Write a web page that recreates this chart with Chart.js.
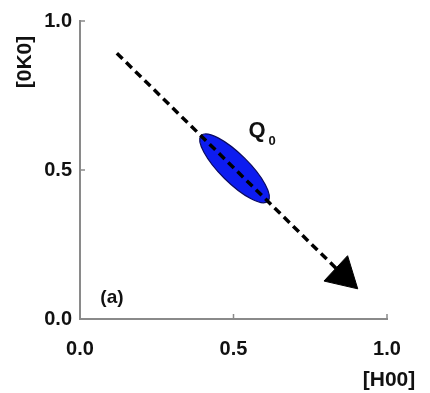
<!DOCTYPE html>
<html>
<head>
<meta charset="utf-8">
<script src="https://cdn.jsdelivr.net/npm/chart.js@4.4.1/dist/chart.umd.min.js"></script>
<style>
  html, body { margin: 0; padding: 0; background: #fff; }
  #wrap { width: 430px; height: 393px; }
</style>
</head>
<body>
<div id="wrap"><canvas id="qplot" width="430" height="393"></canvas></div>
<script>
// axis ticks, same on H and K
const tickValues = [0.0, 0.5, 1.0];
const tickLabels = ['0.0', '0.5', '1.0'];

// dashed scan direction: start point, then centre of the arrow head
const scanH = [0.120, 0.857];
const scanK = [0.892, 0.147];

// Q0 spot: ends of the long axis, and half width across it (in K units)
const spotH = [0.395, 0.612];
const spotK = [0.616, 0.395];
const spotHalfWidth = 0.048;

const FONT = '"Liberation Sans", Arial, Helvetica, sans-serif';
const AXIS_GREY = '#8a8a8a';

const decor = {
  id: 'decor',
  beforeDatasetsDraw(chart) {
    const { ctx, scales: { x, y } } = chart;
    const x0 = x.getPixelForValue(spotH[0]), y0 = y.getPixelForValue(spotK[0]);
    const x1 = x.getPixelForValue(spotH[1]), y1 = y.getPixelForValue(spotK[1]);
    const a = Math.hypot(x1 - x0, y1 - y0) / 2;
    const b = Math.abs(y.getPixelForValue(0) - y.getPixelForValue(spotHalfWidth));
    ctx.save();
    ctx.beginPath();
    ctx.ellipse((x0 + x1) / 2, (y0 + y1) / 2, a, b, Math.atan2(y1 - y0, x1 - x0), 0, Math.PI * 2);
    ctx.fillStyle = '#0d1cf0';
    ctx.fill();
    ctx.lineWidth = 1.2;
    ctx.strokeStyle = '#0a0a60';
    ctx.stroke();
    ctx.restore();
  },
  afterDraw(chart) {
    const { ctx, chartArea, scales: { x, y } } = chart;
    ctx.save();
    // inward ticks
    ctx.strokeStyle = AXIS_GREY;
    ctx.lineWidth = 1.5;
    ctx.beginPath();
    tickValues.forEach(v => {
      const px = x.getPixelForValue(v);
      ctx.moveTo(px, chartArea.bottom);
      ctx.lineTo(px, chartArea.bottom - 5);
      const py = y.getPixelForValue(v);
      ctx.moveTo(chartArea.left, py);
      ctx.lineTo(chartArea.left + 5, py);
    });
    ctx.stroke();

    ctx.fillStyle = '#111';
    ctx.textAlign = 'center';
    ctx.textBaseline = 'middle';

    // axis titles
    ctx.font = 'bold 21px ' + FONT;
    ctx.fillText('[H00]', x.getPixelForValue(1) + 2, 380);
    ctx.save();
    ctx.translate(25, 62);
    ctx.rotate(-Math.PI / 2);
    ctx.fillText('[0K0]', 0, 0);
    ctx.restore();

    // Q0 label
    const qx = x.getPixelForValue(0.577), qy = y.getPixelForValue(0.631);
    ctx.font = 'bold 22px ' + FONT;
    ctx.fillText('Q', qx, qy);
    ctx.font = 'bold 13px ' + FONT;
    ctx.fillText('0', qx + 15, qy + 10);

    // panel tag
    ctx.font = 'bold 19px ' + FONT;
    ctx.fillText('(a)', x.getPixelForValue(0.104), y.getPixelForValue(0.072));
    ctx.restore();
  }
};

const axisOpts = (fit) => ({
  type: 'linear',
  min: 0,
  max: 1,
  afterBuildTicks: s => { s.ticks = tickValues.map(v => ({ value: v })); },
  afterFit: fit,
  grid: { display: true, drawOnChartArea: false, drawTicks: false },
  border: { display: true, color: AXIS_GREY, width: 2 },
  ticks: {
    color: '#111',
    font: { family: FONT, size: 20, weight: 'bold' },
    callback: v => tickLabels[tickValues.indexOf(v)]
  }
});

const xAxis = axisOpts(s => { s.height = 74; });
xAxis.ticks.padding = 18;
const yAxis = axisOpts(s => { s.width = 80; });
yAxis.ticks.padding = 8;

new Chart(document.getElementById('qplot'), {
  type: 'scatter',
  data: {
    datasets: [{
      data: scanH.map((h, i) => ({ x: h, y: scanK[i] })),
      showLine: true,
      borderColor: '#000',
      borderWidth: 3.5,
      borderDash: [8, 5],
      pointRadius: [0, 20],
      pointStyle: 'triangle',
      pointRotation: 133,
      pointBackgroundColor: '#000',
      pointBorderColor: '#000',
      pointBorderWidth: 1
    }]
  },
  options: {
    responsive: false,
    animation: false,
    events: [],
    layout: { padding: { top: 13, right: 43, left: 0, bottom: 0 } },
    plugins: { legend: { display: false }, tooltip: { enabled: false } },
    scales: { x: xAxis, y: yAxis }
  },
  plugins: [decor]
});
</script>
</body>
</html>
